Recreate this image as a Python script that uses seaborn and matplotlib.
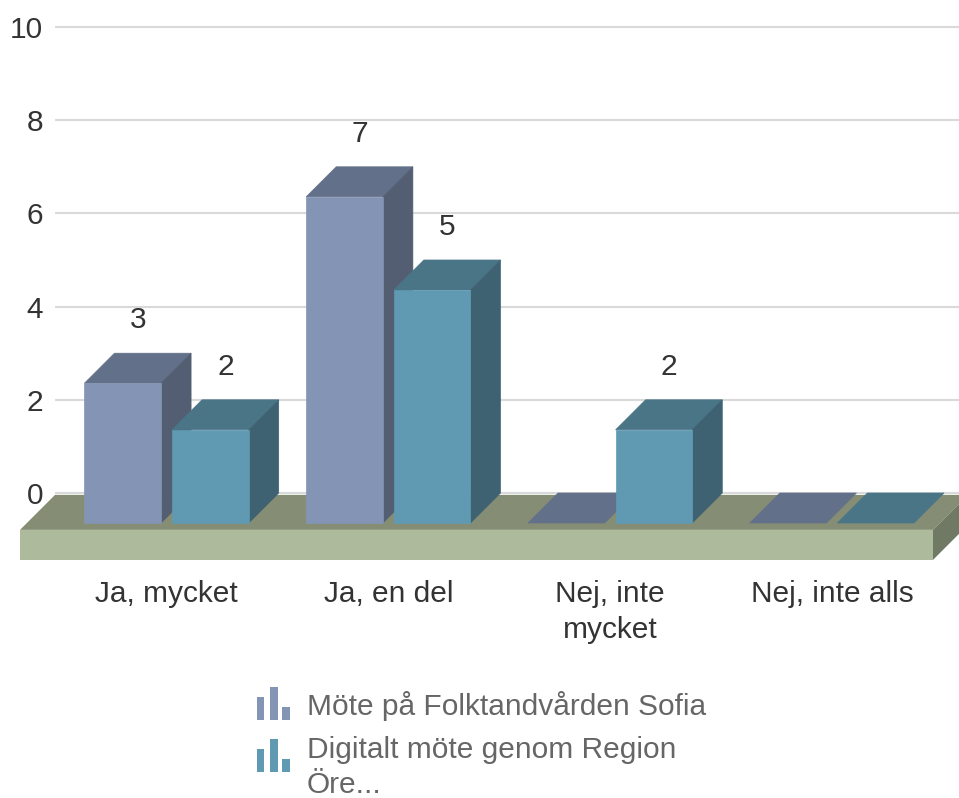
import numpy as np
import pandas as pd
import seaborn as sns
import matplotlib.pyplot as plt
from matplotlib.patches import Polygon, Rectangle

# data
categories = ["Ja, mycket", "Ja, en del", "Nej, inte mycket", "Nej, inte alls"]
tick_labels = ["Ja, mycket", "Ja, en del", "Nej, inte\nmycket", "Nej, inte alls"]
series = ["Möte på Folktandvården Sofia", "Digitalt möte genom Region Örebro"]
legend_labels = ["Möte på Folktandvården Sofia", "Digitalt möte genom Region\nÖre..."]
sofia = [3, 7, 0, 0]
digital = [2, 5, 2, 0]
yticks = [0, 2, 4, 6, 8, 10]

front_cols = ["#8494b4", "#609ab2"]
top_cols = ["#637089", "#4a7587"]
side_cols = ["#535e73", "#3e6272"]

df = pd.DataFrame({
    "cat": categories * 2,
    "serie": [series[0]] * 4 + [series[1]] * 4,
    "val": sofia + digital,
})

sns.set_style("white")
plt.rcParams["font.family"] = ["Liberation Sans", "DejaVu Sans"]

W, H = 959, 798
fig = plt.figure(figsize=(W / 100, H / 100), dpi=100)
# axes from x=55px to right edge, y=0px to 570px
ax = fig.add_axes([55 / W, 1 - 570 / H, 904 / W, 570 / H])

sns.barplot(data=df, x="cat", y="val", hue="serie", order=categories,
            hue_order=series, palette=front_cols, width=0.79, gap=0.125,
            saturation=1, legend=False, ax=ax, linewidth=0, errorbar=None)

xlim = (-0.503, 3.573)
ylim = (-1.652, 10.579)
ax.set_xlim(xlim)
ax.set_ylim(ylim)

px_x = 904 / (xlim[1] - xlim[0])
px_y = 570 / (ylim[1] - ylim[0])

# 3d depth of the bars (30px) and of the floor (35px)
dx, dy = 30 / px_x, 30 / px_y
fdx, fdy = 35 / px_x, 35 / px_y
base = -dy

# floor
fb = -0.04
ff = fb - fdy
fbot = ff - 30 / px_y
fl = xlim[0] - fdx
fr = xlim[1] - 26 / px_x
floor_top = Polygon([(fl, ff), (fr, ff), (fr + fdx, fb), (fl + fdx, fb)],
                    closed=True, fc="#858e74", ec="none", zorder=2, clip_on=False)
floor_front = Polygon([(fl, fbot), (fr, fbot), (fr, ff), (fl, ff)],
                      closed=True, fc="#adba9c", ec="none", zorder=2, clip_on=False)
floor_side = Polygon([(fr, fbot), (fr + fdx, fbot + fdy), (fr + fdx, fb), (fr, ff)],
                     closed=True, fc="#6f7963", ec="none", zorder=2, clip_on=False)
for p in (floor_top, floor_front, floor_side):
    ax.add_patch(p)

bars = [p for p in ax.patches if isinstance(p, Rectangle)]
bars = sorted(bars, key=lambda r: r.get_x())
for k, r in enumerate(bars):
    x0, w, h = r.get_x(), r.get_width(), r.get_height()
    fc = r.get_facecolor()
    si = 0 if np.allclose(fc[:3], plt.matplotlib.colors.to_rgb(front_cols[0]), atol=0.02) else 1
    r.set_y(base)
    top = base + h
    z = 3 + k * 0.1
    r.set_zorder(z + 0.02)
    if h > 0:
        r.set_edgecolor(front_cols[si])
        r.set_linewidth(0.5)
    ax.add_patch(Polygon([(x0, top), (x0 + w, top), (x0 + w + dx, top + dy), (x0 + dx, top + dy)],
                         closed=True, fc=top_cols[si], ec=top_cols[si], lw=0.5, zorder=z))
    if h > 0:
        ax.add_patch(Polygon([(x0 + w, base), (x0 + w + dx, base + dy), (x0 + w + dx, top + dy), (x0 + w, top)],
                             closed=True, fc=side_cols[si], ec=side_cols[si], lw=0.5, zorder=z + 0.01))
        ax.text(x0 + w / 2 + dx / 2, h + 33 / px_y, f"{h:.0f}", ha="center", va="center",
                fontsize=21.5, color="#333333", zorder=10)

ax.set_yticks(yticks)
ax.set_yticklabels([str(t) for t in yticks])
ax.set_xticks(range(len(categories)))
ax.set_xticklabels(tick_labels, linespacing=1.38)
ax.tick_params(axis="y", length=0, pad=8.6, labelsize=21.5, labelcolor="#333333")
ax.tick_params(axis="x", length=0, pad=7, labelsize=21.5, labelcolor="#333333")
ax.set_xlabel("")
ax.set_ylabel("")
ax.yaxis.grid(True, color="#d9d9d9", linewidth=1.5)
ax.xaxis.grid(False)
ax.set_axisbelow(True)
for s in ax.spines.values():
    s.set_visible(False)

# legend (icon of three small bars + label)
icon_bars = [(257, 7, 23), (270, 8, 33), (282, 8, 13)]
leg_bottoms = [720, 772]
leg_tops = [691, 736]
for i in range(2):
    for bx, bw, bh in icon_bars:
        fig.patches.append(Rectangle((bx / W, 1 - leg_bottoms[i] / H), bw / W, bh / H,
                                     transform=fig.transFigure, fc=front_cols[i], ec="none"))
    fig.text(307 / W, 1 - leg_tops[i] / H, legend_labels[i], ha="left", va="top",
             fontsize=21.5, color="#666666", linespacing=1.3)

fig.savefig("out.png", dpi=100)
